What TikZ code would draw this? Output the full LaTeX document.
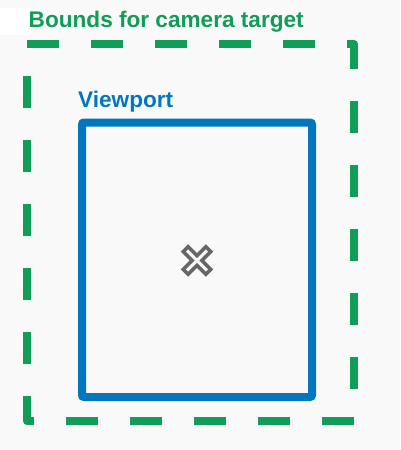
\documentclass[tikz,border=0pt]{standalone}
\usepackage{fontspec}
\setmainfont{Liberation Sans}
\definecolor{boundsgreen}{HTML}{0F9D58}
\definecolor{viewblue}{HTML}{0277BD}
\definecolor{crossgray}{HTML}{666666}
\definecolor{paper}{HTML}{F9F9F9}
\tikzset{
  heading/.style={anchor=base west, inner sep=0pt, font=\fontsize{22.6}{26}\selectfont\bfseries},
  bounds/.style={draw=boundsgreen, line width=8pt, dash pattern=on 32pt off 32pt, line join=round},
  viewbox/.style={draw=viewblue, line width=8pt, rounded corners=2pt},
  marker/.style={draw=crossgray, line width=3.5pt}
}
\begin{document}
\begin{tikzpicture}[x=1pt,y=-1pt]
\fill[paper] (0,0) rectangle (400,450);
\useasboundingbox (0,0) rectangle (400,450);
\fill[white] (0,8) rectangle (31,35);

\draw[bounds] (27,44) -- (354,44) -- (354,421) -- (27,421) -- cycle;
\draw[viewbox] (82,122.5) rectangle (312,397);

\node[heading, text=boundsgreen] (title) at (28.5,27) {Bounds for camera target};
\node[heading, text=viewblue] (viewlabel) at (78,107) {Viewport};

% target marker
\draw[marker, shift={(197,260.5)}, rotate=45]
  (3.5,3.5) -- (3.5,16) -- (-3.5,16) -- (-3.5,3.5) -- (-16,3.5) -- (-16,-3.5)
  -- (-3.5,-3.5) -- (-3.5,-16) -- (3.5,-16) -- (3.5,-3.5) -- (16,-3.5) -- (16,3.5) -- cycle;
\end{tikzpicture}
\end{document}
